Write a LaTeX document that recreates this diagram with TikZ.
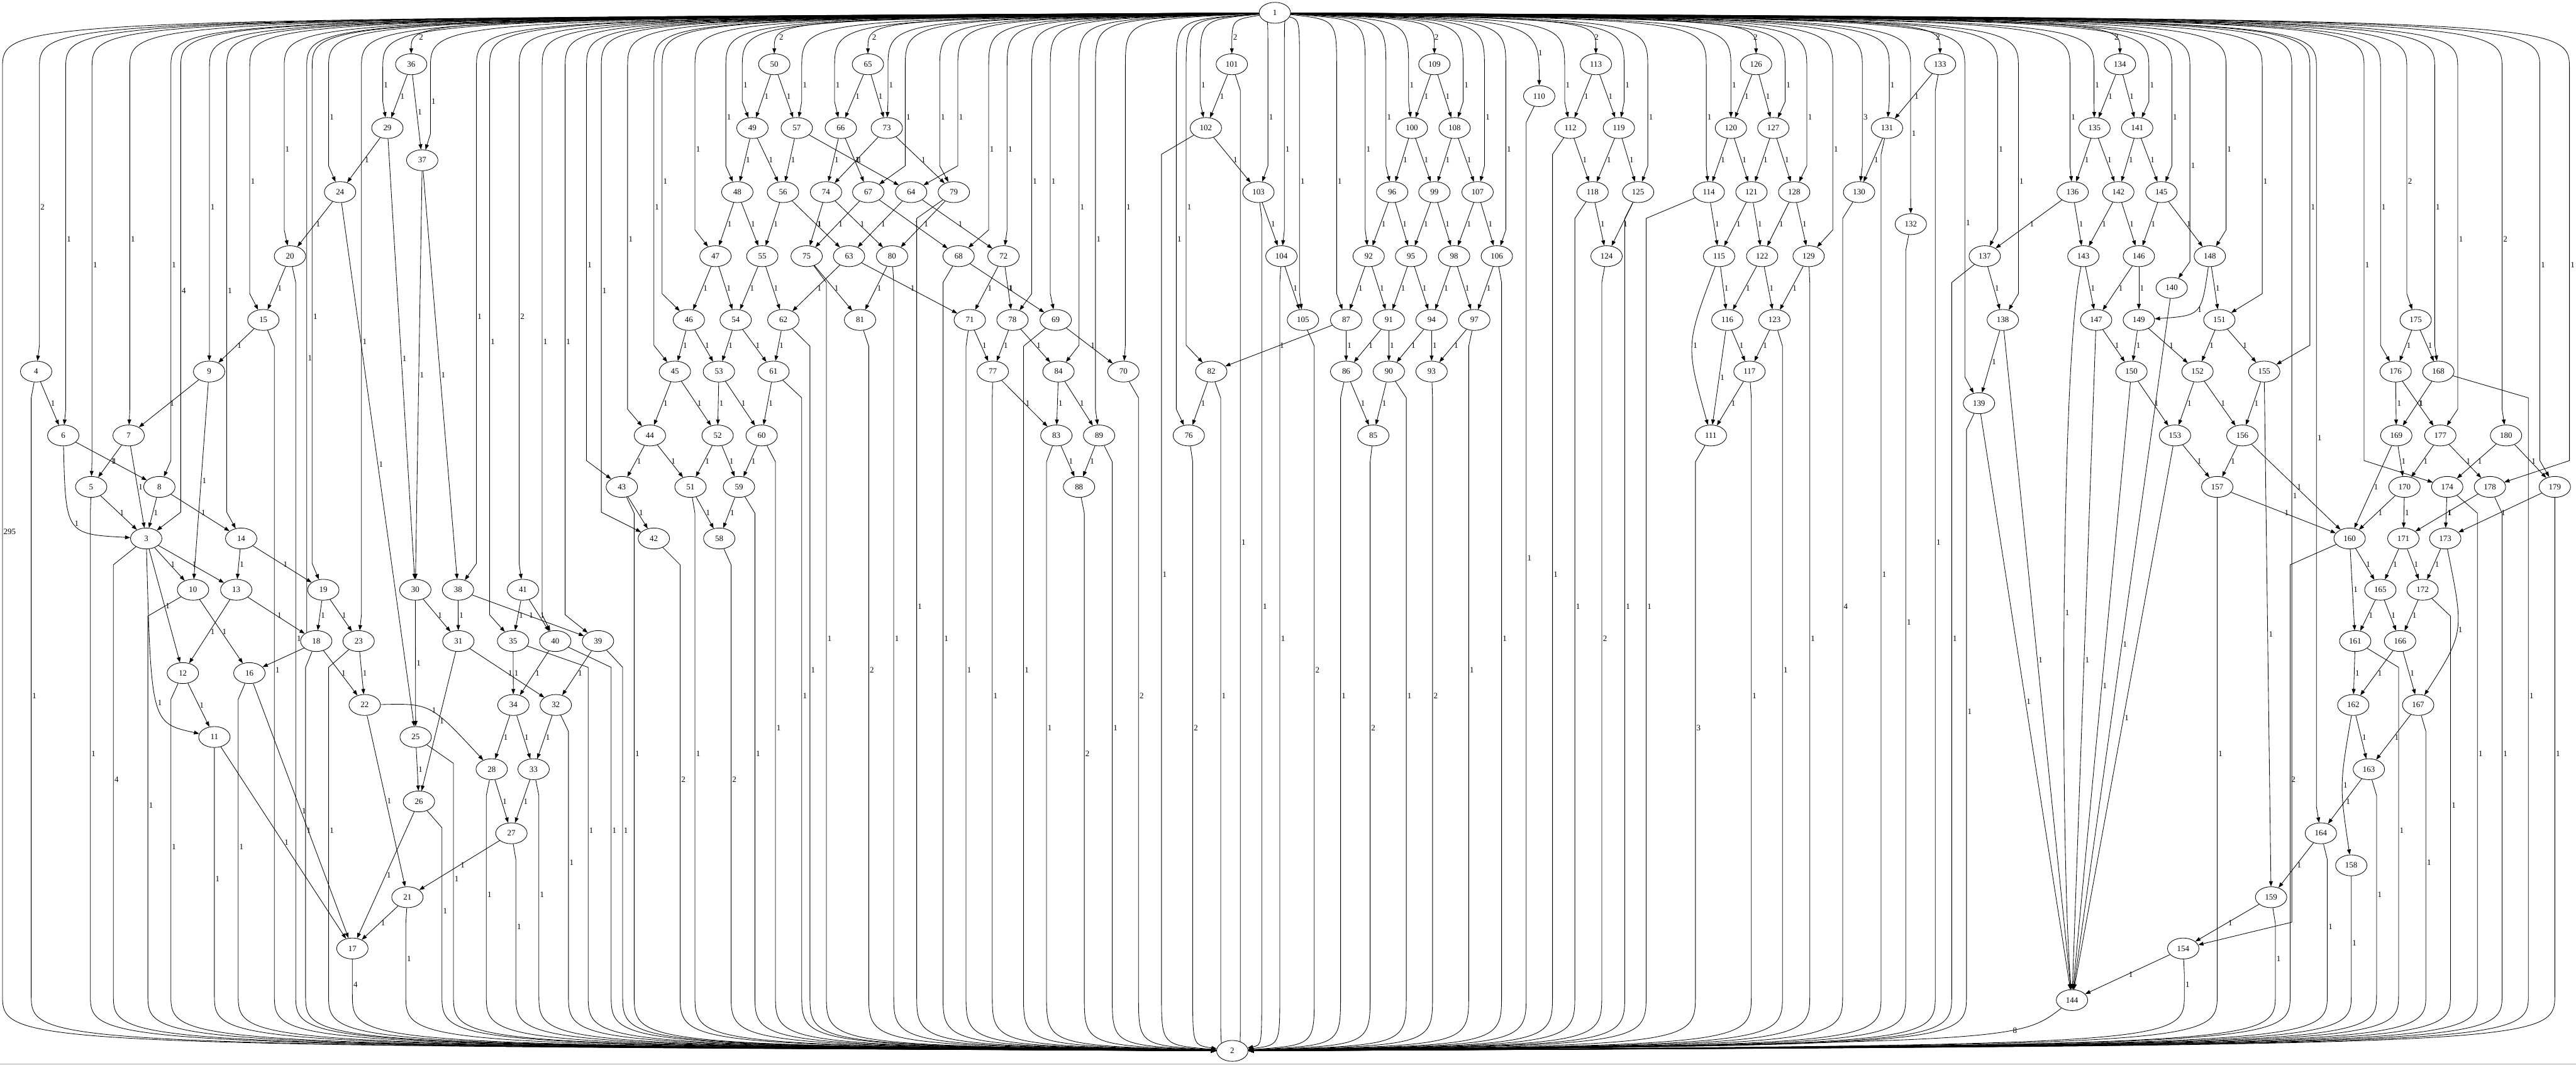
\documentclass[tikz,border=0pt]{standalone}
\usepackage{fontspec}
\setmainfont{Liberation Serif}
\usepackage{tikz}
\usetikzlibrary{arrows.meta,shapes.geometric,calc,backgrounds}

\tikzset{
  vtx/.style={ellipse,draw,fill=white,line width=0.9pt,minimum width=54pt,minimum height=36pt,inner sep=0pt},
  flow/.style={draw,line width=0.9pt,-{Triangle[length=9pt,width=6.5pt]}},
  wlab/.style={anchor=west,inner sep=1.5pt}
}

\begin{document}
\begin{tikzpicture}[x=2.825pt,y=-2.825pt,font=\fontsize{14}{16}\selectfont]
  \useasboundingbox (0,0) rectangle (1568,648);
  \foreach \n/\x/\y in {1/776/7.8, 2/750.1/639.5,
    3/89/327.7, 4/22/226.1, 5/55.5/296.3, 6/38.5/265, 7/78.3/265, 8/97/296.3, 9/127.3/226.1,
    10/117.5/358.9, 11/130.5/448.5, 12/111.3/409.6, 13/143.8/358.9, 14/146.8/327.7,
    15/160.3/194.7, 16/151.8/409.6, 17/214.5/577.2, 18/192.5/390.1, 19/196.8/358.9,
    20/176.5/155.9, 21/248/546, 22/222/429, 23/218.3/390.1, 24/207/116.9, 25/253/448.5,
    26/255/487.7, 27/311.3/507.1, 28/299.3/468.1, 29/235.8/77.9, 30/252.8/358.9,
    31/279/390.1, 32/338.3/429, 33/324.8/468.1, 34/312.5/429, 35/312.3/390.1,
    36/250.3/39.1, 37/257/97.5, 38/278.8/358.9, 39/364/390.1, 40/338/390.1,
    41/318.3/358.9, 42/398/327.7, 43/378.5/296.3, 44/395.6/265, 45/410.8/226.1,
    46/419.3/194.7, 47/435.5/155.9, 48/448.8/116.9, 49/458/77.9, 50/471.3/39.1,
    51/420.3/296.3, 52/436.8/265, 53/437.6/226.1, 54/447.8/194.7, 55/464/155.9,
    56/476.6/116.9, 57/485/77.9, 58/437.8/327.7, 59/449.8/296.3, 60/463.6/265,
    61/470.8/226.1, 62/476.8/194.7, 63/516.8/155.9, 64/554.6/116.9, 65/528.3/39.1,
    66/511.8/77.9, 67/528.5/116.9, 68/583.5/155.9, 69/642.6/194.7, 70/683.8/226.1,
    71/590.3/194.7, 72/610.8/155.9, 73/539.8/77.9, 74/502.8/116.9, 75/491/155.9,
    76/723.6/265, 77/604.3/226.1, 78/616.3/194.7, 79/580.6/116.9, 80/543/155.9,
    81/523.5/194.7, 82/737.3/226.1, 83/643/265, 84/644.3/226.1, 85/835.9/265,
    86/819.4/226.1, 87/819.4/194.7, 88/656.8/296.3, 89/669/265, 90/845.4/226.1,
    91/845.4/194.7, 92/833.1/155.9, 93/871.4/226.1, 94/871.4/194.7, 95/858.9/155.9,
    96/847.4/116.9, 97/897.4/194.7, 98/885.1/155.9, 99/873.1/116.9, 100/859.4/77.9,
    101/749.8/39.1, 102/734/77.9, 103/766/116.9, 104/780/155.9, 105/793.1/194.7,
    106/911.1/155.9, 107/899.4/116.9, 108/885.4/77.9, 109/873.1/39.1, 110/936.9/58.5,
    111/1041.4/265, 112/955.9/77.9, 113/971.4/39.1, 114/1040.1/116.9, 115/1046.4/155.9,
    116/1051.4/194.7, 117/1064.9/226.1, 118/969.4/116.9, 119/985.4/77.9, 120/1053.6/77.9,
    121/1066.1/116.9, 122/1072.6/155.9, 123/1080.1/194.7, 124/977.9/155.9, 125/997.1/116.9,
    126/1068.9/39.1, 127/1079.4/77.9, 128/1092.1/116.9, 129/1100.9/155.9, 130/1131.6/116.9,
    131/1148.6/77.9, 132/1163.1/136.4, 133/1180.9/39.1, 134/1290.4/39.1, 135/1274.9/77.9,
    136/1261.6/116.9, 137/1208.1/155.9, 138/1219.1/194.7, 139/1204.6/245.4, 140/1321.9/175.2,
    141/1300.9/77.9, 142/1289.4/116.9, 143/1268.1/155.9, 144/1261.2/608.6, 145/1315.6/116.9,
    146/1301.9/155.9, 147/1275.9/194.7, 148/1345.1/155.9, 149/1301.9/194.7, 150/1297.4/226.1,
    151/1350.9/194.7, 152/1337.6/226.1, 153/1323.9/265, 154/1328.9/577.2, 155/1378.2/226.1,
    156/1364.9/265, 157/1349.6/296.3, 158/1431.2/526.6, 159/1382.4/546, 160/1430.2/327.7,
    161/1433.6/390.1, 162/1432.4/429, 163/1441.9/468.1, 164/1412.7/507.1, 165/1448.9/358.9,
    166/1460.9/390.1, 167/1471.9/429, 168/1484.2/226.1, 169/1458.6/265, 170/1463.6/296.3,
    171/1462.9/327.7, 172/1474.6/358.9, 173/1488.4/327.7, 174/1489.6/296.3, 175/1470.4/194.7,
    176/1458.2/226.1, 177/1485.4/265, 178/1515.6/296.3, 179/1555.1/296.3, 180/1525.4/265}
    \node[vtx] (n\n) at (\x,\y) {\n};

  \begin{scope}[on background layer]
  % out of the source
  \foreach \tg/\wt in {36/2, 50/2, 65/2, 101/2, 109/2, 110/1, 113/2, 126/2, 133/2, 134/2}
    \draw[flow] (n1) .. controls (n\tg |- 0,12) .. node[wlab,pos=0.8]{\wt} (n\tg);
  \foreach \tg/\wt/\la in {4/2/24, 6/1/40, 5/1/56, 7/1/79, 3/4/110, 8/1/104, 9/1/127.5,
      15/1/152, 14/1/138, 16/1/186.7, 20/1/173, 19/1/190, 24/1/200, 23/1/220, 29/1/233,
      37/1/262, 38/1/290, 35/1/298, 41/2/316, 40/1/330, 39/1/344, 43/1/357,
      42/1/366, 44/1/382,
      45/1/398, 46/1/403, 47/1/423, 48/1/441.8, 49/1/451.8, 57/1/488,
      66/1/508, 73/1/540.5, 67/1/551, 79/1/572, 64/1/583, 68/1/601.8, 72/1/613, 78/1/628,
      69/1/639.3, 84/1/656.8, 89/1/666.8, 70/1/685, 76/1/716, 82/1/722,
      102/1/730.5, 103/1/771.8, 104/1/781.8,
      105/1/791, 87/1/813.6, 92/1/831, 96/1/843.6, 100/1/857.4, 108/1/890.6,
      107/1/903.6, 106/1/916.6, 112/1/952.4, 119/1/988.6,
      125/1/1003, 114/1/1038.6, 120/1/1053.6, 127/1/1086.6, 128/1/1099.8,
      129/1/1115.6, 130/3/1133.6, 131/1/1150, 132/1/1163,
      135/1/1274.6, 141/1/1308, 136/1/1260, 145/1/1322, 137/1/1216,
      138/1/1228.6, 139/1/1196, 140/1/1333, 148/1/1355, 151/1/1377, 155/1/1406, 154/1/1395,
      164/1/1410, 176/1/1449, 175/2/1465, 168/1/1482, 177/1/1496, 180/2/1523, 174/1/1439,
      179/1/1546, 178/1/1564}{
    \coordinate (ln) at (\la,0);
    \draw[flow] (n1) .. controls (\la,12) .. (\la,42)
      -- node[wlab]{\wt} ($(ln |- n\tg)+(0,-16)$) -- (n\tg);
  }
  \draw[flow] (n1) .. controls (1.5,12) .. (1.5,42) -- node[wlab]{295} (1.5,605)
    .. controls (1.5,636) .. (n2);

  % into the sink
  \foreach \sr/\wt/\la in {4/1/19, 5/1/55, 3/4/69, 10/1/90, 12/1/104, 11/1/130.5, 16/1/145,
      15/1/167, 20/1/180, 18/1/186, 23/1/200, 17/4/214.5, 21/1/247, 26/1/269, 25/1/276,
      28/1/296, 27/1/314, 33/1/328, 32/1/346, 35/1/358, 40/1/372, 39/1/379, 43/1/386,
      42/2/414,
      51/1/423, 58/2/445, 59/1/459.5, 60/1/472, 61/1/488, 62/1/493, 75/1/503, 81/2/528.8,
      80/1/544, 79/1/558, 68/1/574, 71/1/588, 77/1/604, 69/1/623, 83/1/637, 88/2/660,
      89/1/677, 70/2/693, 102/1/707, 76/2/726, 82/1/743, 101/1/755, 103/1/768, 104/1/779,
      105/2/800,
      86/1/816, 85/2/834, 90/1/856, 93/2/872, 97/1/894, 106/1/914, 110/1/929, 112/1/945,
      118/1/958.6, 124/2/975, 125/1/989, 114/1/1002, 111/3/1032, 117/1/1066, 123/1/1085,
      129/1/1101.6, 130/4/1121.6, 131/1/1145, 132/1/1160, 133/1/1178,
      137/1/1188, 139/1/1197, 157/1/1349.6, 154/1/1329.6, 159/1/1385, 160/2/1394,
      164/1/1416.6, 158/1/1431.2, 163/1/1446.6, 161/1/1460, 167/1/1476.6, 172/1/1491.6,
      174/1/1508, 178/1/1523, 168/1/1539, 179/1/1555.1}{
    \coordinate (ln) at (\la,0);
    \draw[flow] (n\sr) -- ($(ln |- n\sr)+(0,16)$) -- node[wlab]{\wt} (\la,605)
      .. controls (\la,636) .. (n2);
  }
  \draw[flow] (n144) .. controls (1228,634) .. node[wlab,pos=0.3]{8} (n2);

  % between the inner vertices
  \foreach \a/\b in {36/29, 36/37, 29/24, 29/30, 37/30, 37/38, 24/20, 24/25, 20/15, 15/9,
      9/7, 9/10, 4/6, 6/8, 7/5, 7/3, 5/3, 8/3, 8/14, 3/10, 3/13, 3/12, 14/13, 14/19, 10/16,
      13/12, 13/18, 19/18, 19/23, 12/11, 16/17, 11/17, 18/22, 23/22, 22/21, 30/31, 30/25,
      38/31, 38/39, 41/35, 41/40, 31/32, 31/26, 35/34, 40/34, 39/32, 34/28, 34/33, 32/33,
      28/27, 33/27, 27/21, 25/26, 26/17, 21/17, 44/43, 44/51, 43/42,
      50/49, 50/57, 65/66, 65/73, 101/102, 102/103, 103/104, 104/105, 49/48, 49/56, 57/56,
      57/64, 66/74, 66/67, 73/74, 73/79, 48/47, 48/55, 56/55, 56/63, 74/75, 74/80, 67/75,
      67/68, 64/63, 64/72, 79/80, 47/46, 47/54, 55/54, 55/62, 75/81, 63/62, 63/71, 80/81,
      68/69, 72/71, 72/78, 46/45, 46/53, 54/53, 54/61, 62/61, 71/77, 78/77, 78/84, 69/70,
      45/44, 45/52, 53/52, 53/60, 61/60, 77/83, 84/83, 84/89, 82/76, 52/51, 52/59, 60/59,
      83/88, 89/88, 51/58, 59/58, 87/82,
      109/100, 109/108, 113/112, 113/119, 126/120, 126/127, 133/131, 100/96, 100/99, 108/99,
      108/107, 112/118, 119/118, 119/125, 120/114, 120/121, 127/121, 127/128, 131/130,
      96/92, 96/95, 99/95, 99/98, 107/98, 107/106, 118/124, 125/124, 114/115, 121/115,
      121/122, 128/122, 128/129, 92/87, 92/91, 95/91, 95/94, 98/94, 98/97, 106/97, 115/116,
      122/116, 122/123, 129/123, 116/117, 116/111, 123/117, 117/111, 87/86, 91/86, 91/90,
      94/90, 94/93, 97/93, 86/85, 90/85,
      134/135, 134/141, 135/136, 135/142, 141/142, 141/145, 136/137, 136/143, 142/143,
      142/146, 145/146, 145/148, 137/138, 143/147, 146/147, 146/149, 148/151, 138/139,
      147/150, 149/150, 149/152, 151/152, 151/155, 175/176, 175/168, 150/153, 152/153,
      152/156, 155/156, 176/169, 176/177, 168/169, 153/157, 156/157, 156/160, 169/170,
      169/160, 177/170, 177/178, 180/174, 180/179, 157/160, 170/160, 170/171, 174/173,
      178/171, 179/173, 160/165, 160/161, 171/165, 171/172, 173/172, 165/161, 165/166,
      172/166, 161/162, 166/162, 166/167, 162/163, 167/163, 163/164, 164/159, 155/159,
      159/154, 154/144, 139/144, 138/144, 147/144, 150/144, 153/144, 140/144}
    \draw[flow] (n\a) -- node[wlab]{1} (n\b);

  \draw[flow] (n22) .. controls (262,428) .. node[wlab]{1} (n28);
  \draw[flow] (n3) .. controls (92,440) .. node[wlab]{1} (n11);
  \draw[flow] (n6) .. controls (40,325) .. node[wlab]{1} (n3);
  \draw[flow] (n115) .. controls (1026,210) .. node[wlab]{1} (n111);
  \draw[flow] (n148) .. controls (1340,192) .. node[wlab]{1} (n149);
  \draw[flow] (n173) .. controls (1500,385) .. node[wlab]{1} (n167);
  \draw[flow] (n162) .. controls (1424,478) .. node[wlab]{1} (n158);
  \draw[flow] (n143) .. controls (1254,220) and (1254,520) .. node[wlab]{1} (n144);
  \end{scope}

  \draw[gray!70,line width=1pt] (0,647.6) -- (1568,647.6);
\end{tikzpicture}
\end{document}
